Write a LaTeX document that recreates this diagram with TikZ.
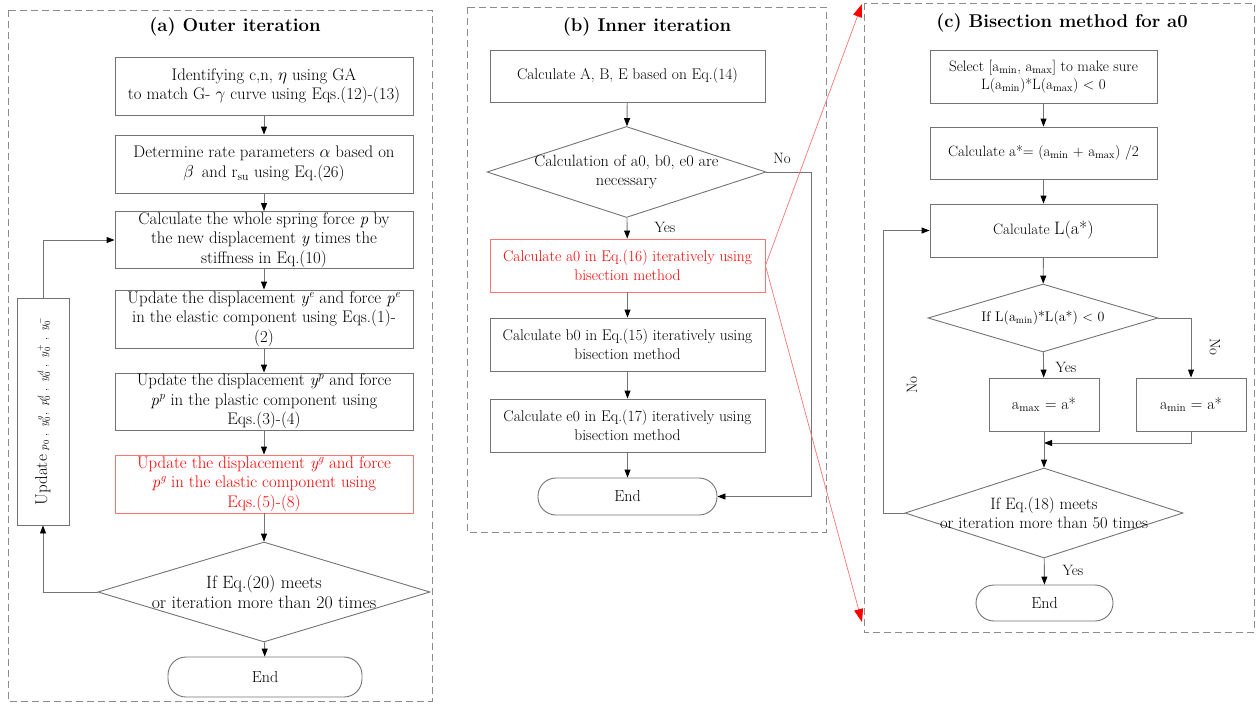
\documentclass[tikz,border=0pt]{standalone}
\usetikzlibrary{arrows.meta,shapes.geometric,positioning,calc}

\tikzset{
  box/.style={draw=black!55, line width=0.9pt, align=center, inner sep=1pt,
    font=\fontsize{15.5}{19}\selectfont},
  abox/.style={box, font=\fontsize{16.8}{19.5}\selectfont},
  cbox/.style={box, font=\fontsize{15}{18}\selectfont},
  redbox/.style={draw=red!55, text=red},
  decision/.style={draw=black!55, line width=0.9pt, diamond, inner sep=0pt},
  term/.style={draw=black!55, line width=0.9pt, rounded corners=18pt,
    font=\fontsize{16}{18}\selectfont},
  frame/.style={draw=black!45, line width=0.9pt, dash pattern=on 7pt off 4pt},
  flow/.style={draw=black!55, line width=0.9pt,
    -{Triangle[color=black,length=8pt,width=6pt]}},
  redline/.style={draw=red!55, line width=0.7pt,
    -{Triangle[color=red,length=13pt,width=9pt]}},
  title/.style={font=\fontsize{18.5}{22}\selectfont\bfseries},
  lbl/.style={font=\fontsize{15}{18}\selectfont}
}

\begin{document}
\begin{tikzpicture}[x=1pt,y=-1pt]
    \useasboundingbox (0,0) rectangle (1258,705);

    % frames of the three panels
    \draw[frame] (8,10) rectangle (432,701);
    \draw[frame] (467,7) rectangle (826,532);
    \draw[frame] (864,3) rectangle (1254,632);

    % (a) Outer iteration
    \node[title] (ta) at (235,27) {(a) Outer iteration};
    \node[abox, minimum width=298, minimum height=58] (a1) at (264,86)
        {Identifying c,n, $\eta$ using GA\\to match G- $\gamma$ curve using Eqs.(12)-(13)};
    \node[abox, minimum width=298, minimum height=58] (a2) at (264,164)
        {Determine rate parameters $\alpha$ based on\\$\beta$\, and r\textsubscript{su} using Eq.(26)};
    \node[abox, minimum width=298, minimum height=56] (a3) at (264,240)
        {Calculate the whole spring force \textit{p} by\\the new displacement \textit{y} times the\\stiffness in Eq.(10)};
    \node[abox, minimum width=298, minimum height=58] (a4) at (264,319)
        {Update the displacement \textit{y\textsuperscript{e}} and force \textit{p\textsuperscript{e}}\\in the elastic component using Eqs.(1)-\\(2)};
    \node[abox, minimum width=298, minimum height=57] (a5) at (264,401.5)
        {Update the displacement \textit{y\textsuperscript{p}} and force\\\textit{p\textsuperscript{p}} in the plastic component using\\Eqs.(3)-(4)};
    \node[abox, redbox, minimum width=298, minimum height=58] (a6) at (264,484)
        {Update the displacement \textit{y\textsuperscript{g}} and force\\\textit{p\textsuperscript{g}} in the elastic component using\\Eqs.(5)-(8)};
    \node[decision, minimum width=332, minimum height=100] (ad) at (264,592) {};
    \node[align=center, font=\fontsize{17.8}{20}\selectfont] (adtxt) at (ad)
        {If Eq.(20) meets\\or iteration more than 20 times};
    \node[term, minimum width=194, minimum height=40] (aend) at (265,677) {End};
    \node[box, rotate=90, minimum width=227, minimum height=52, inner sep=0pt] (upd) at (43,411.5)
        {{\fontsize{17}{20}\selectfont Update} {\fontsize{11}{13}\selectfont $p_0$\ ,\ \ $y_0^g$,\ \ $p_0^d$\ ,\ \ $y_0^d$\ ,\ \ $y_0^+$\ ,\ \ $y_0^-$}};

    \draw[flow] (a1) -- (a2);
    \draw[flow] (a2) -- (a3);
    \draw[flow] (a3) -- (a4);
    \draw[flow] (a4) -- (a5);
    \draw[flow] (a5) -- (a6);
    \draw[flow] (a6) -- (ad);
    \draw[flow] (ad) -- (aend);
    \draw[flow] (ad.west) -| (upd.west);
    \draw[flow] (upd.east) |- (a3.west);

    % (b) Inner iteration
    \node[title] (tb) at (647,27) {(b) Inner iteration};
    \node[box, minimum width=275, minimum height=52] (b1) at (627.5,76)
        {Calculate A, B, E based on Eq.(14)};
    \node[decision, minimum width=279, minimum height=91] (bd) at (626.5,172) {};
    \node[align=center, font=\fontsize{16.3}{19}\selectfont] (bdtxt) at (bd)
        {Calculation of a0, b0, e0 are\\necessary};
    \node[box, redbox, minimum width=275, minimum height=53] (b2) at (627.5,265.5)
        {Calculate a0 in Eq.(16) iteratively using\\bisection method};
    \node[box, minimum width=275, minimum height=53] (b3) at (627.5,344.5)
        {Calculate b0 in Eq.(15) iteratively using\\bisection method};
    \node[box, minimum width=275, minimum height=53] (b4) at (627.5,425.5)
        {Calculate e0 in Eq.(17) iteratively using\\bisection method};
    \node[term, minimum width=179, minimum height=37] (bend) at (627.5,496.5) {End};
    \node[lbl] (bno) at (782,158) {No};
    \node[lbl] (byes) at (665,227) {Yes};

    \draw[flow] (b1) -- (bd);
    \draw[flow] (bd) -- (b2);
    \draw[flow] (b2) -- (b3);
    \draw[flow] (b3) -- (b4);
    \draw[flow] (b4) -- (bend);
    \draw[flow] (bd.east) -- ++(45,0) |- (bend.east);

    % (c) Bisection method for a0
    \node[title] (tc) at (1062,23) {(c) Bisection method for a0};
    \node[cbox, minimum width=227, minimum height=53] (c1) at (1043.5,76.5)
        {Select [a\textsubscript{min}, a\textsubscript{max}] to make sure\\L(a\textsubscript{min})*L(a\textsubscript{max}) < 0};
    \node[cbox, minimum width=227, minimum height=52] (c2) at (1043.5,153)
        {Calculate a*= (a\textsubscript{min} + a\textsubscript{max}) /2};
    \node[cbox, minimum width=227, minimum height=53] (c3) at (1043.5,230.5)
        {Calculate {\fontsize{18}{19}\selectfont L(a*)}};
    \node[decision, minimum width=230, minimum height=68] (cd1) at (1043,318) {};
    \node[font=\fontsize{14}{16}\selectfont] (cd1txt) at (cd1) {If L(a\textsubscript{min})*L(a*) < 0};
    \node[box, minimum width=110, minimum height=53, font=\fontsize{16}{18}\selectfont] (c4) at (1044,404.5)
        {a\textsubscript{max} = a*};
    \node[box, minimum width=110, minimum height=53, font=\fontsize{16}{18}\selectfont] (c5) at (1191,404.5)
        {a\textsubscript{min} = a*};
    \node[decision, minimum width=278, minimum height=90] (cd2) at (1044,513) {};
    \node[align=center, font=\fontsize{16.5}{19}\selectfont] (cd2txt) at (cd2)
        {If Eq.(18) meets\\or iteration more than 50 times};
    \node[term, minimum width=137, minimum height=36] (cend) at (1044.5,603) {End};
    \node[lbl] (cyes1) at (1066,367) {Yes};
    \node[lbl] (cyes2) at (1073,570) {Yes};
    \node[lbl, rotate=-90] (cno1) at (1215,347) {No};
    \node[lbl, rotate=90] (cno2) at (912,385) {No};
    \coordinate (cmerge) at (1044,443);

    \draw[flow] (c1) -- (c2);
    \draw[flow] (c2) -- (c3);
    \draw[flow] (c3) -- (cd1);
    \draw[flow] (cd1) -- (c4);
    \draw[flow] (cd1.east) -| (c5.north);
    \draw[flow] (c5.south) |- (cmerge);
    \draw[flow] (c4) -- (cd2);
    \draw[flow] (cd2) -- (cend);
    \draw[flow] (cd2.west) -- ++(-21,0) |- (c3.west);

    % zoom lines from (b) to (c)
    \coordinate (ctop) at (862,4);
    \coordinate (cbot) at (862,622);
    \draw[redline] (b2.east) -- (ctop);
    \draw[redline] (b2.east) -- (cbot);
\end{tikzpicture}
\end{document}
